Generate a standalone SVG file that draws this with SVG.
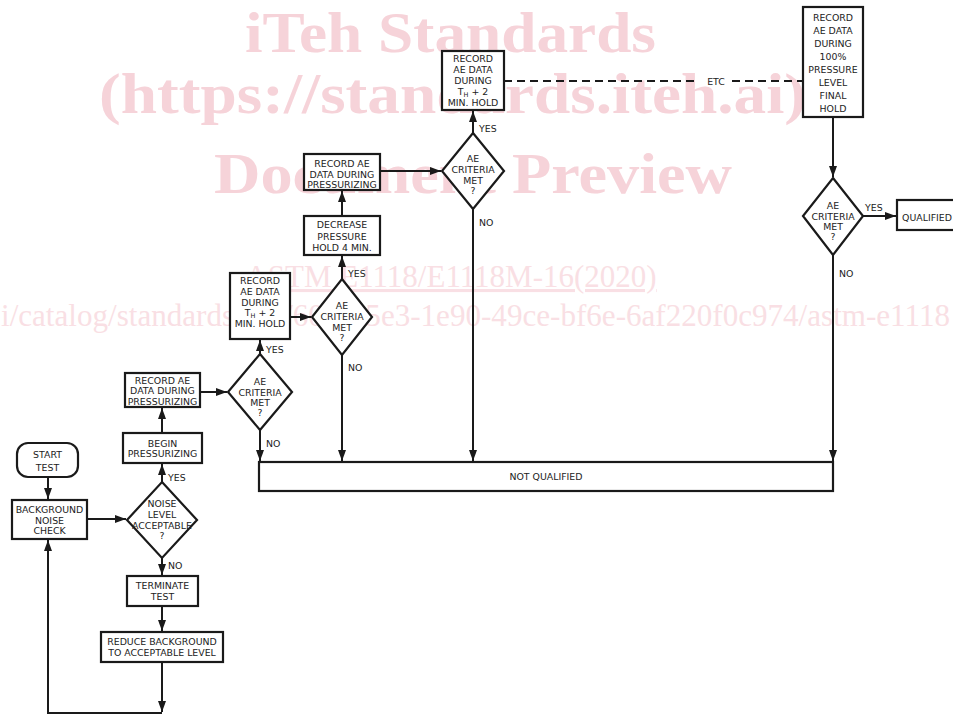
<svg xmlns="http://www.w3.org/2000/svg" width="953" height="716" viewBox="0 0 953 716">
<style>
.wm1{font-family:"Liberation Serif","Times New Roman",serif;font-weight:bold;font-size:56px;fill:#f6d3d9}
.wm2{font-family:"Liberation Serif","Times New Roman",serif;font-size:31px;fill:#f9dfe4}
.b{fill:#fff;stroke:#1a1a1a;stroke-width:2.2}
.c{fill:none;stroke:#1a1a1a;stroke-width:2}
.d{fill:none;stroke:#1a1a1a;stroke-width:2;stroke-dasharray:8 5}
.t{font-family:"DejaVu Sans",Verdana,sans-serif;font-size:9.4px;fill:#222;text-anchor:middle}
.l{text-anchor:start}
</style>
<defs>
<marker id="ah" viewBox="0 0 11 8" refX="11" refY="4" markerWidth="11" markerHeight="8" markerUnits="userSpaceOnUse" orient="auto">
<path d="M0,0 L11,4 L0,8 z" fill="#1a1a1a"/>
</marker>
</defs>
<rect width="953" height="716" fill="#fff"/>
<g id="watermark">
<text class="wm1" x="245" y="52" textLength="411" lengthAdjust="spacingAndGlyphs">iTeh Standards</text>
<text class="wm1" x="99" y="113" textLength="707" lengthAdjust="spacingAndGlyphs">(https://standards.iteh.ai)</text>
<text class="wm1" x="214" y="193" textLength="518" lengthAdjust="spacingAndGlyphs">Document Preview</text>
<text class="wm2" x="451" y="287" text-anchor="middle" text-decoration="underline">ASTM E1118/E1118M-16(2020)</text>
<text class="wm2" x="1" y="326" textLength="949" lengthAdjust="spacingAndGlyphs">i/catalog/standards/sist/604f45e3-1e90-49ce-bf6e-6af220f0c974/astm-e1118</text>
</g>
<g id="connectors">
<path class="c" d="M48,477 V499" marker-end="url(#ah)"/>
<path class="c" d="M87,519 H126" marker-end="url(#ah)"/>
<path class="c" d="M162,482 V464" marker-end="url(#ah)"/>
<path class="c" d="M162,558 V575" marker-end="url(#ah)"/>
<path class="c" d="M162,606 V631" marker-end="url(#ah)"/>
<path class="c" d="M162,662 V712" marker-end="url(#ah)"/>
<path class="c" d="M162,713 H48 V540" marker-end="url(#ah)"/>
<path class="c" d="M162,433 V408" marker-end="url(#ah)"/>
<path class="c" d="M200,392 H227" marker-end="url(#ah)"/>
<path class="c" d="M260,354 V340" marker-end="url(#ah)"/>
<path class="c" d="M260,430 V461" marker-end="url(#ah)"/>
<path class="c" d="M290,317 H311" marker-end="url(#ah)"/>
<path class="c" d="M342,279 V256" marker-end="url(#ah)"/>
<path class="c" d="M342,216 V191" marker-end="url(#ah)"/>
<path class="c" d="M342,355 V461" marker-end="url(#ah)"/>
<path class="c" d="M380,171 H441" marker-end="url(#ah)"/>
<path class="c" d="M473,133 V111" marker-end="url(#ah)"/>
<path class="c" d="M473,209 V461" marker-end="url(#ah)"/>
<path class="d" d="M504,81 H696"/>
<path class="d" d="M732,81 H803"/>
<path class="c" d="M833,117 V177" marker-end="url(#ah)"/>
<path class="c" d="M863,216 H896" marker-end="url(#ah)"/>
<path class="c" d="M833,255 V461" marker-end="url(#ah)"/>
<text class="t l" x="168" y="480.5">YES</text>
<text class="t l" x="168" y="568.5">NO</text>
<text class="t l" x="266" y="352.5">YES</text>
<text class="t l" x="266" y="446.5">NO</text>
<text class="t l" x="348" y="276.5">YES</text>
<text class="t l" x="348" y="370.5">NO</text>
<text class="t l" x="479" y="131.5">YES</text>
<text class="t l" x="479" y="225.5">NO</text>
<text class="t l" x="865" y="210.5">YES</text>
<text class="t l" x="839" y="276.5">NO</text>
<text class="t" x="716" y="84.5">ETC</text>
</g>
<g id="start">
<rect class="b" x="17" y="443" width="61" height="34" rx="11"/>
<text class="t" x="47.5" y="457.5">START</text>
<text class="t" x="47.5" y="470.5">TEST</text>
</g>
<g id="bgcheck">
<rect class="b" x="12" y="500" width="75" height="39"/>
<text class="t" x="49.5" y="512.5">BACKGROUND</text>
<text class="t" x="49.5" y="523.5">NOISE</text>
<text class="t" x="49.5" y="534">CHECK</text>
</g>
<g id="noise">
<polygon class="b" points="162,482 197,520 162,558 127,520"/>
<text class="t" x="162" y="506.5">NOISE</text>
<text class="t" x="162" y="517.5">LEVEL</text>
<text class="t" x="162" y="528.5">ACCEPTABLE</text>
<text class="t" x="162" y="538.5">?</text>
</g>
<g id="begin">
<rect class="b" x="123" y="433" width="79" height="30"/>
<text class="t" x="162.5" y="446.5">BEGIN</text>
<text class="t" x="162.5" y="457">PRESSURIZING</text>
</g>
<g id="terminate">
<rect class="b" x="127" y="576" width="71" height="30"/>
<text class="t" x="162.5" y="588.5">TERMINATE</text>
<text class="t" x="162.5" y="599.5">TEST</text>
</g>
<g id="reduce">
<rect class="b" x="101" y="632" width="122" height="30"/>
<text class="t" x="162" y="644.5">REDUCE BACKGROUND</text>
<text class="t" x="162" y="655.5">TO ACCEPTABLE LEVEL</text>
</g>
<g id="record1">
<rect class="b" x="125" y="373" width="75" height="34"/>
<text class="t" x="162.5" y="383.5">RECORD AE</text>
<text class="t" x="162.5" y="394">DATA DURING</text>
<text class="t" x="162.5" y="404.5">PRESSURIZING</text>
</g>
<g id="crit1">
<polygon class="b" points="260,354 292,392 260,430 228,392"/>
<text class="t" x="260" y="384.5">AE</text>
<text class="t" x="260" y="395.5">CRITERIA</text>
<text class="t" x="260" y="405.5">MET</text>
<text class="t" x="260" y="415.5">?</text>
</g>
<g id="hold1">
<rect class="b" x="230" y="273" width="60" height="66"/>
<text class="t" x="260" y="283.5">RECORD</text>
<text class="t" x="260" y="294.5">AE DATA</text>
<text class="t" x="260" y="305.5">DURING</text>
<text class="t" x="260" y="315.5">T<tspan font-size="6.5" dy="2">H</tspan><tspan dy="-2"> + 2</tspan></text>
<text class="t" x="260" y="326.5">MIN. HOLD</text>
</g>
<g id="crit2">
<polygon class="b" points="342,279 372,317 342,355 312,317"/>
<text class="t" x="342" y="309">AE</text>
<text class="t" x="342" y="320">CRITERIA</text>
<text class="t" x="342" y="331">MET</text>
<text class="t" x="342" y="341">?</text>
</g>
<g id="decrease">
<rect class="b" x="304" y="216" width="76" height="39"/>
<text class="t" x="342" y="228">DECREASE</text>
<text class="t" x="342" y="239.5">PRESSURE</text>
<text class="t" x="342" y="251">HOLD 4 MIN.</text>
</g>
<g id="record2">
<rect class="b" x="304" y="154" width="76" height="36"/>
<text class="t" x="342" y="167">RECORD AE</text>
<text class="t" x="342" y="177.5">DATA DURING</text>
<text class="t" x="342" y="188">PRESSURIZING</text>
</g>
<g id="crit3">
<polygon class="b" points="473,133 504,171 473,209 442,171"/>
<text class="t" x="473" y="161.5">AE</text>
<text class="t" x="473" y="172.5">CRITERIA</text>
<text class="t" x="473" y="183.5">MET</text>
<text class="t" x="473" y="194">?</text>
</g>
<g id="hold2">
<rect class="b" x="442" y="51" width="62" height="59"/>
<text class="t" x="473" y="61.5">RECORD</text>
<text class="t" x="473" y="72.5">AE DATA</text>
<text class="t" x="473" y="83.5">DURING</text>
<text class="t" x="473" y="94.5">T<tspan font-size="6.5" dy="2">H</tspan><tspan dy="-2"> + 2</tspan></text>
<text class="t" x="473" y="105.5">MIN. HOLD</text>
</g>
<g id="finalhold">
<rect class="b" x="803" y="7" width="60" height="110"/>
<text class="t" x="833" y="20.5">RECORD</text>
<text class="t" x="833" y="33.5">AE DATA</text>
<text class="t" x="833" y="46.5">DURING</text>
<text class="t" x="833" y="59.5">100%</text>
<text class="t" x="833" y="72.5">PRESSURE</text>
<text class="t" x="833" y="85.5">LEVEL</text>
<text class="t" x="833" y="98.5">FINAL</text>
<text class="t" x="833" y="111.5">HOLD</text>
</g>
<g id="crit4">
<polygon class="b" points="833,178 863,216 833,255 803,216"/>
<text class="t" x="833" y="208.5">AE</text>
<text class="t" x="833" y="219.5">CRITERIA</text>
<text class="t" x="833" y="229.5">MET</text>
<text class="t" x="833" y="239.5">?</text>
</g>
<g id="qualified">
<rect class="b" x="897" y="200" width="62" height="30"/>
<text class="t l" x="902" y="220.5">QUALIFIED</text>
</g>
<g id="notqualified">
<rect class="b" x="259" y="462" width="574" height="29"/>
<text class="t" x="546" y="479.5">NOT QUALIFIED</text>
</g>
</svg>
